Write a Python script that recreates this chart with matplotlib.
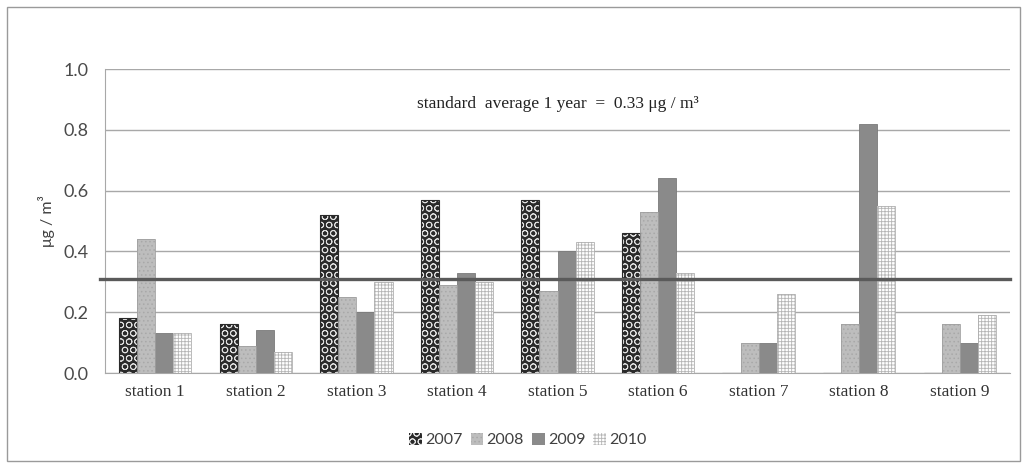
import matplotlib
matplotlib.use("Agg")
import matplotlib.pyplot as plt
from matplotlib.patches import Rectangle, Patch
import numpy as np

stations = ["station 1", "station 2", "station 3", "station 4", "station 5",
            "station 6", "station 7", "station 8", "station 9"]
years = ["2007", "2008", "2009", "2010"]
v2007 = [0.18, 0.16, 0.52, 0.57, 0.57, 0.46, 0.0, 0.0, 0.0]
v2008 = [0.44, 0.09, 0.25, 0.29, 0.27, 0.53, 0.10, 0.16, 0.16]
v2009 = [0.13, 0.14, 0.20, 0.33, 0.40, 0.64, 0.10, 0.82, 0.10]
v2010 = [0.13, 0.07, 0.30, 0.30, 0.43, 0.33, 0.26, 0.55, 0.19]
standard = 0.31
yticks = [0.0, 0.2, 0.4, 0.6, 0.8, 1.0]

plt.rcParams["hatch.linewidth"] = 0.6
SERIF = "Liberation Serif"
SANS = "Lato"

fig = plt.figure(figsize=(10.27, 4.68), dpi=100)
fig.patches.append(Rectangle((7 / 1027, 1 - 461 / 468), 1013 / 1027, 454 / 468,
                             transform=fig.transFigure, fill=False,
                             edgecolor="#9a9a9a", lw=1.0))
ax = fig.add_axes([105 / 1027, 1 - 373 / 468, 905 / 1027, 304 / 468])

x = np.arange(len(stations))
w = 0.18
offs = [-1.5 * w, -0.5 * w, 0.5 * w, 1.5 * w]

# 2007: dark with light blobs
ax.bar(x + offs[0], v2007, w, color="#2a2a2a", edgecolor="#e0e0e0",
       hatch="OO", lw=0, zorder=3)
ax.bar(x + offs[0], v2007, w, fill=False, edgecolor="#2a2a2a", lw=0.8,
       zorder=4)
# 2008: light gray speckled
ax.bar(x + offs[1], v2008, w, color="#bdbdbd", edgecolor="#a8a8a8",
       hatch="....", lw=0, zorder=3)
ax.bar(x + offs[1], v2008, w, fill=False, edgecolor="#a0a0a0", lw=0.6,
       zorder=4)
# 2009: solid mid gray
ax.bar(x + offs[2], v2009, w, color="#8a8a8a", edgecolor="#7a7a7a", lw=0.6,
       zorder=3)
# 2010: white with fine grid
ax.bar(x + offs[3], v2010, w, color="white", edgecolor="#b5b5b5",
       hatch="+++++", lw=0, zorder=3)
ax.bar(x + offs[3], v2010, w, fill=False, edgecolor="#b0b0b0", lw=0.6,
       zorder=4)

ax.axhline(standard, color="#5a5a5a", lw=2.4, zorder=5, xmin=-0.005,
           clip_on=False)

ax.set_xlim(-0.5, len(stations) - 0.5)
ax.set_ylim(0, 1.0)
ax.set_yticks(yticks)
ax.set_yticklabels([f"{t:.1f}" for t in yticks], family=SANS, fontsize=13,
                   color="#4a4a4a")
ax.set_xticks(x)
ax.set_xticklabels(stations, family=SERIF, fontsize=12.5, color="#333333")
ax.tick_params(axis="x", length=0, pad=8)
ax.tick_params(axis="y", length=0, pad=12)
ax.grid(axis="y", color="#a8a8a8", lw=1.0, zorder=0)
for s in ["top", "right"]:
    ax.spines[s].set_visible(False)
ax.spines["left"].set_color("#a8a8a8")
ax.spines["bottom"].set_color("#a8a8a8")

ax.set_ylabel("μg / m³", family=SANS, fontsize=11.5, color="#404040",
              labelpad=6)

ax.text(0.5, 0.885, "standard  average 1 year  =  0.33 μg / m³",
        transform=ax.transAxes, ha="center", va="center", family=SERIF,
        fontsize=12.5, color="#222222")

handles = [
    Patch(facecolor="#2a2a2a", edgecolor="#e0e0e0", hatch="OO", lw=0),
    Patch(facecolor="#bdbdbd", edgecolor="#a8a8a8", hatch="....", lw=0),
    Patch(facecolor="#8a8a8a", edgecolor="#7a7a7a", lw=0),
    Patch(facecolor="white", edgecolor="#b5b5b5", hatch="+++++", lw=0),
]
fig.legend(handles, years, loc="center", bbox_to_anchor=(528 / 1027, 1 - 440 / 468),
           ncol=4, frameon=False, handlelength=0.8, handleheight=0.8,
           handletextpad=0.2, columnspacing=0.5,
           prop={"family": SANS, "size": 11.5}, labelcolor="#404040")

fig.savefig("out.png", dpi=100)
